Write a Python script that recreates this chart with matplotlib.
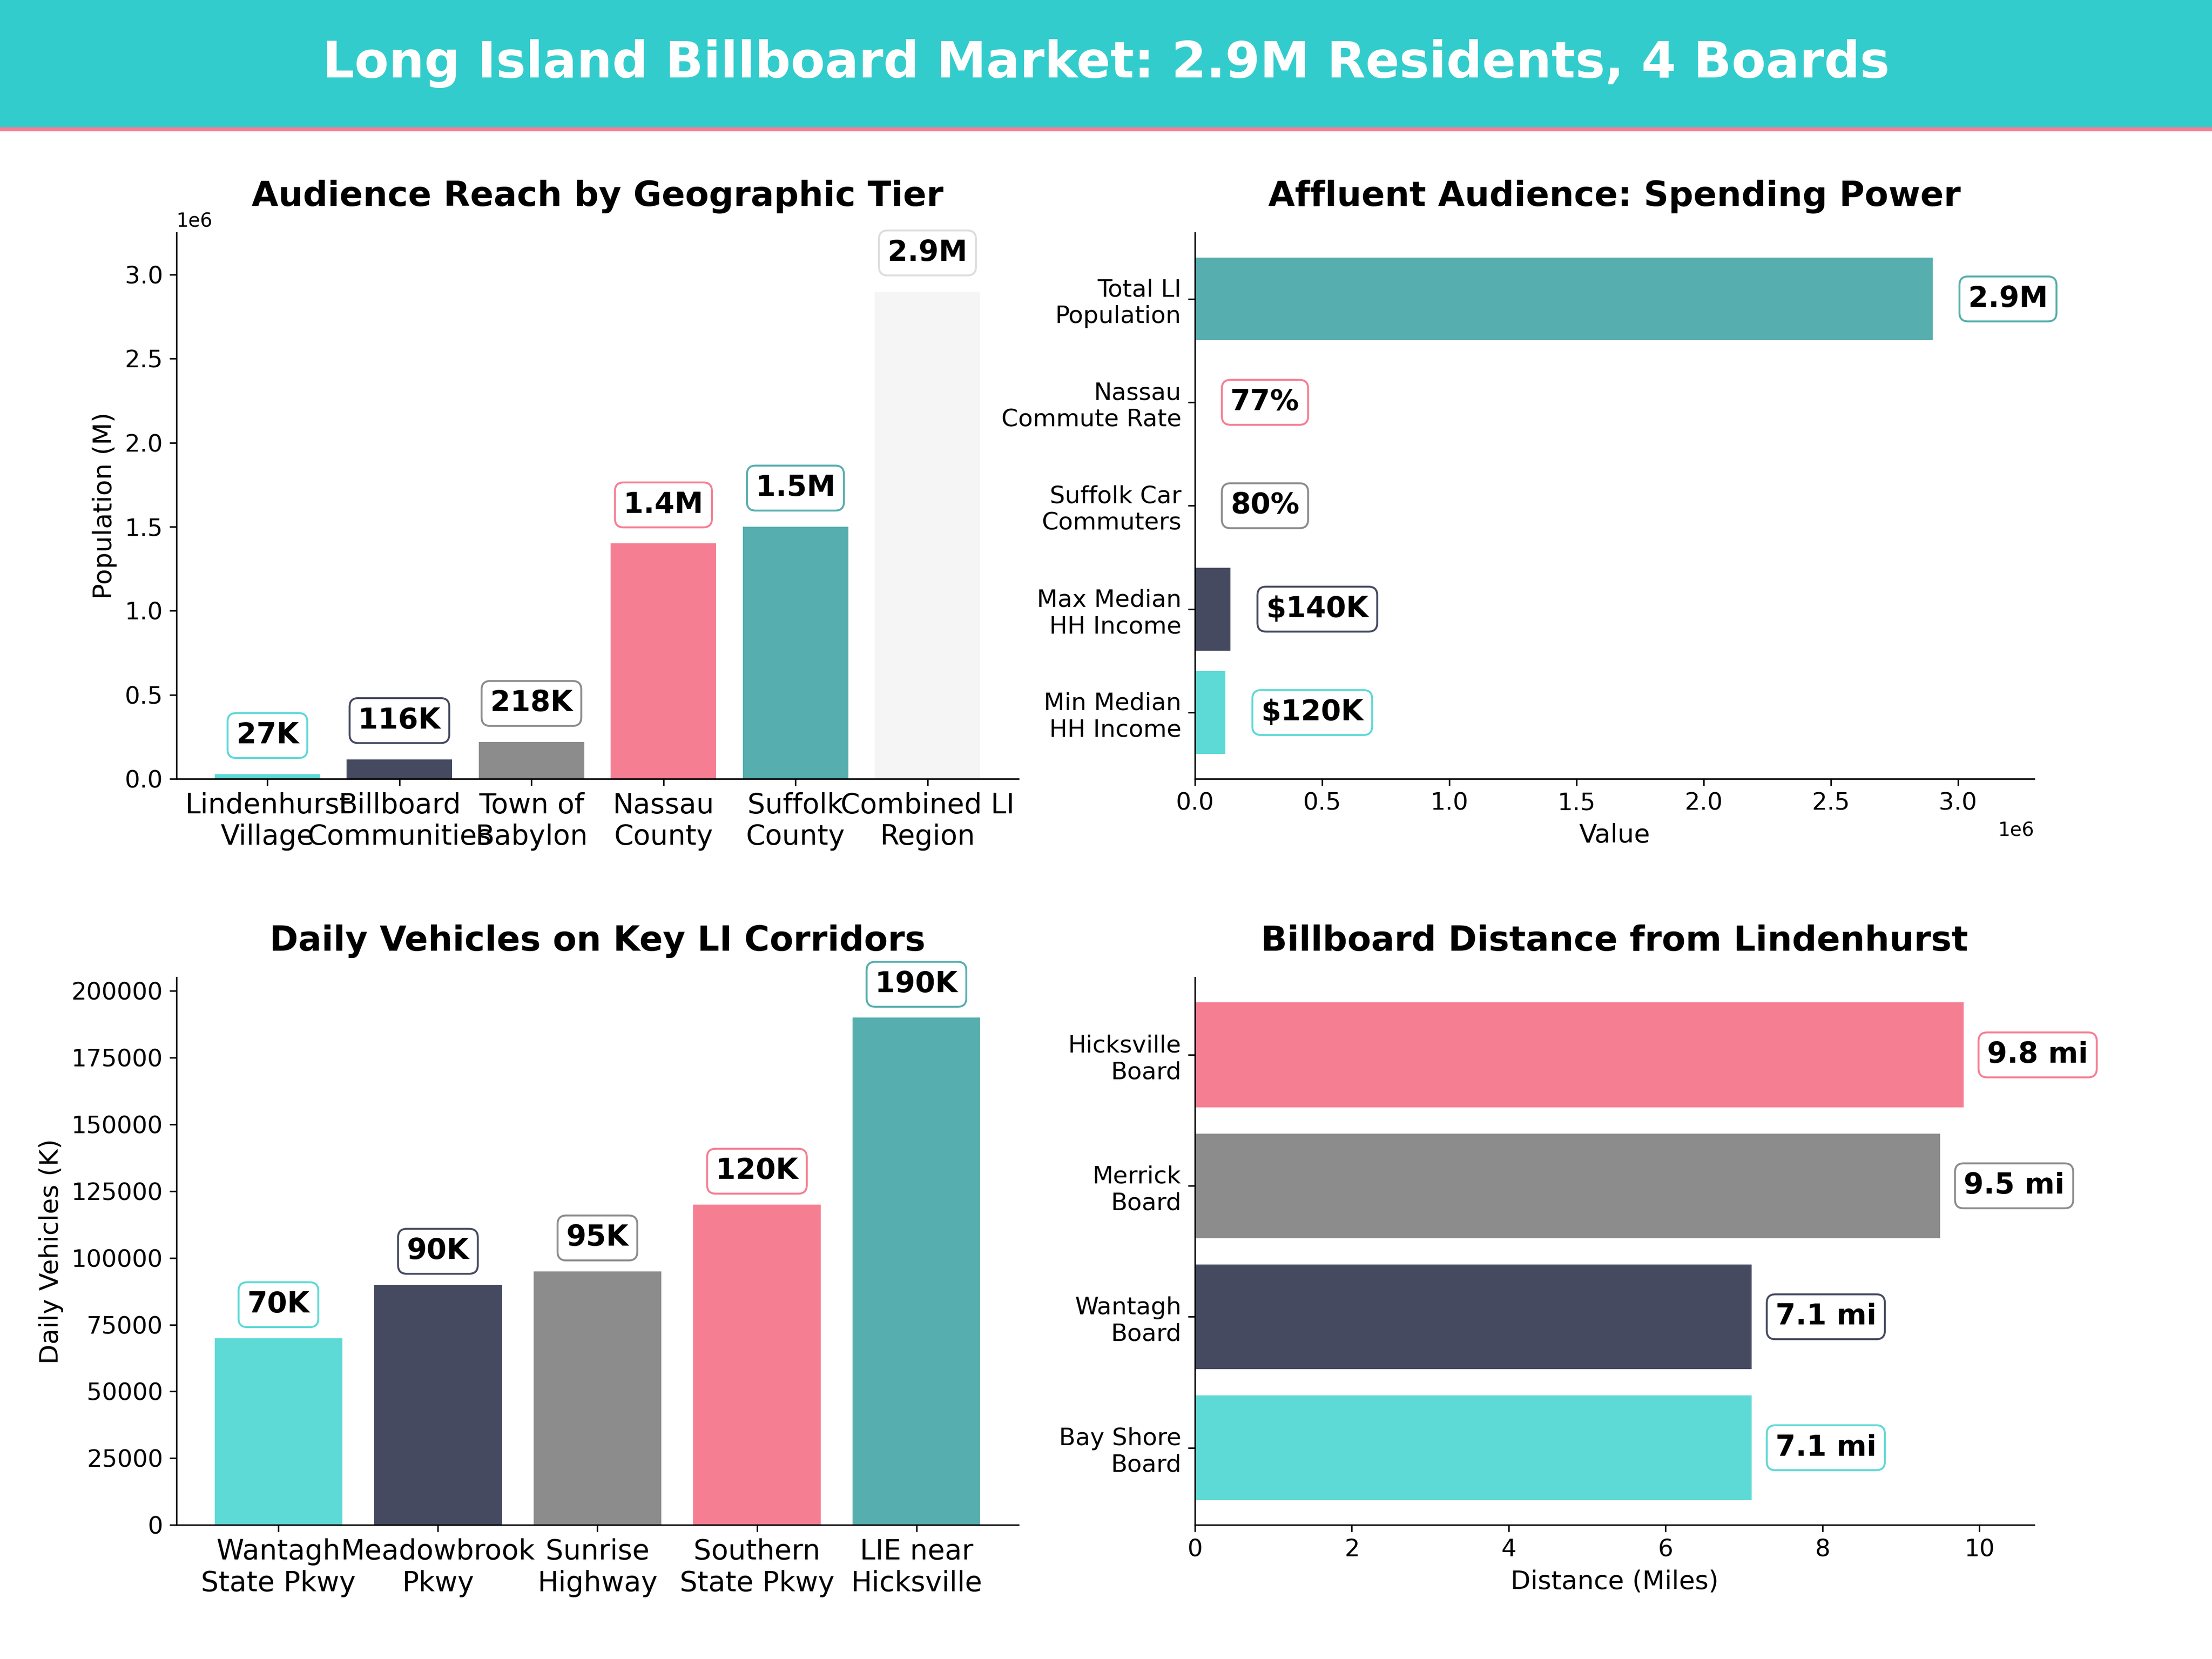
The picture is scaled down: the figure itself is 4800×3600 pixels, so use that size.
import matplotlib
matplotlib.use("Agg")
import matplotlib.pyplot as plt
from matplotlib.patches import Rectangle

TURQ = "#5dd9d6"
NAVY = "#464a60"
GRAY = "#8c8c8c"
PINK = "#f67e92"
TEAL = "#56aeae"
LIGHT = "#f5f5f5"
HEADER = "#33cccc"

tier_labels = ["Lindenhurst\nVillage", "Billboard\nCommunities", "Town of\nBabylon",
               "Nassau\nCounty", "Suffolk\nCounty", "Combined LI\nRegion"]
tier_pop = [27000, 116000, 218000, 1400000, 1500000, 2900000]
tier_text = ["27K", "116K", "218K", "1.4M", "1.5M", "2.9M"]

spend_labels = ["Min Median\nHH Income", "Max Median\nHH Income", "Suffolk Car\nCommuters",
                "Nassau\nCommute Rate", "Total LI\nPopulation"]
spend_vals = [120000, 140000, 80, 77, 2900000]
spend_text = ["$120K", "$140K", "80%", "77%", "2.9M"]

road_labels = ["Wantagh\nState Pkwy", "Meadowbrook\nPkwy", "Sunrise\nHighway",
               "Southern\nState Pkwy", "LIE near\nHicksville"]
road_vals = [70000, 90000, 95000, 120000, 190000]
road_text = ["70K", "90K", "95K", "120K", "190K"]

board_labels = ["Bay Shore\nBoard", "Wantagh\nBoard", "Merrick\nBoard", "Hicksville\nBoard"]
board_dist = [7.1, 7.1, 9.5, 9.8]
board_text = ["7.1 mi", "7.1 mi", "9.5 mi", "9.8 mi"]

W, H = 1568, 1176
fig = plt.figure(figsize=(16, 12), dpi=300)


def rect(x0, x1, y0, y1):
    return [x0 / W, 1 - y1 / H, (x1 - x0) / W, (y1 - y0) / H]


def box(color):
    return dict(boxstyle="round,pad=0.3", fc="white", ec=color, lw=1)


def clean(ax, title):
    ax.spines["top"].set_visible(False)
    ax.spines["right"].set_visible(False)
    ax.set_title(title, fontsize=18, fontweight="bold", pad=14)
    ax.tick_params(labelsize=12.5)


# header band
fig.patches.append(Rectangle((0, 1 - 90 / H), 1, 90 / H, transform=fig.transFigure,
                             fc=HEADER, ec="none"))
fig.patches.append(Rectangle((0, 1 - 93 / H), 1, 3 / H, transform=fig.transFigure,
                             fc=PINK, ec="none"))
fig.text(0.5, 1 - 45 / H, "Long Island Billboard Market: 2.9M Residents, 4 Boards",
         ha="center", va="center", fontsize=26, fontweight="bold", color="white")

# top left
ax1 = fig.add_axes(rect(125, 722, 165, 552))
c1 = [TURQ, NAVY, GRAY, PINK, TEAL, LIGHT]
x = range(len(tier_pop))
ax1.bar(x, tier_pop, color=c1, width=0.8)
for i, v in enumerate(tier_pop):
    ax1.text(i, v + 0.23e6, tier_text[i], ha="center", va="center", fontsize=15,
             fontweight="bold", bbox=box(c1[i] if c1[i] != LIGHT else "#dddddd"))
ax1.set_xticks(list(x))
ax1.set_xticklabels(tier_labels)
ax1.set_ylim(0, 3.25e6)
ax1.set_ylabel("Population (M)", fontsize=13.5)
clean(ax1, "Audience Reach by Geographic Tier")
ax1.tick_params(axis="x", labelsize=14.5)

# top right
ax2 = fig.add_axes(rect(847, 1442, 165, 552))
c2 = [TURQ, NAVY, GRAY, PINK, TEAL]
y = range(len(spend_vals))
ax2.barh(y, spend_vals, color=c2, height=0.8)
for i, v in enumerate(spend_vals):
    ax2.text(v + 0.14e6, i, spend_text[i], ha="left", va="center", fontsize=15,
             fontweight="bold", bbox=box(c2[i]))
ax2.set_yticks(list(y))
ax2.set_yticklabels(spend_labels)
ax2.set_xlim(0, 3.3e6)
ax2.set_xlabel("Value", fontsize=13.5)
clean(ax2, "Affluent Audience: Spending Power")

# bottom left
ax3 = fig.add_axes(rect(125, 722, 693, 1081))
c3 = [TURQ, NAVY, GRAY, PINK, TEAL]
x = range(len(road_vals))
ax3.bar(x, road_vals, color=c3, width=0.8)
for i, v in enumerate(road_vals):
    ax3.text(i, v + 12500, road_text[i], ha="center", va="center", fontsize=15,
             fontweight="bold", bbox=box(c3[i]))
ax3.set_xticks(list(x))
ax3.set_xticklabels(road_labels)
ax3.set_ylim(0, 205000)
ax3.set_ylabel("Daily Vehicles (K)", fontsize=13.5)
clean(ax3, "Daily Vehicles on Key LI Corridors")
ax3.tick_params(axis="x", labelsize=14.5)

# bottom right
ax4 = fig.add_axes(rect(847, 1442, 693, 1081))
c4 = [TURQ, NAVY, GRAY, PINK]
y = range(len(board_dist))
ax4.barh(y, board_dist, color=c4, height=0.8)
for i, v in enumerate(board_dist):
    ax4.text(v + 0.3, i, board_text[i], ha="left", va="center", fontsize=15,
             fontweight="bold", bbox=box(c4[i]))
ax4.set_yticks(list(y))
ax4.set_yticklabels(board_labels)
ax4.set_xlim(0, 10.7)
ax4.set_xlabel("Distance (Miles)", fontsize=13.5)
clean(ax4, "Billboard Distance from Lindenhurst")

fig.savefig("out.png", dpi=300)
